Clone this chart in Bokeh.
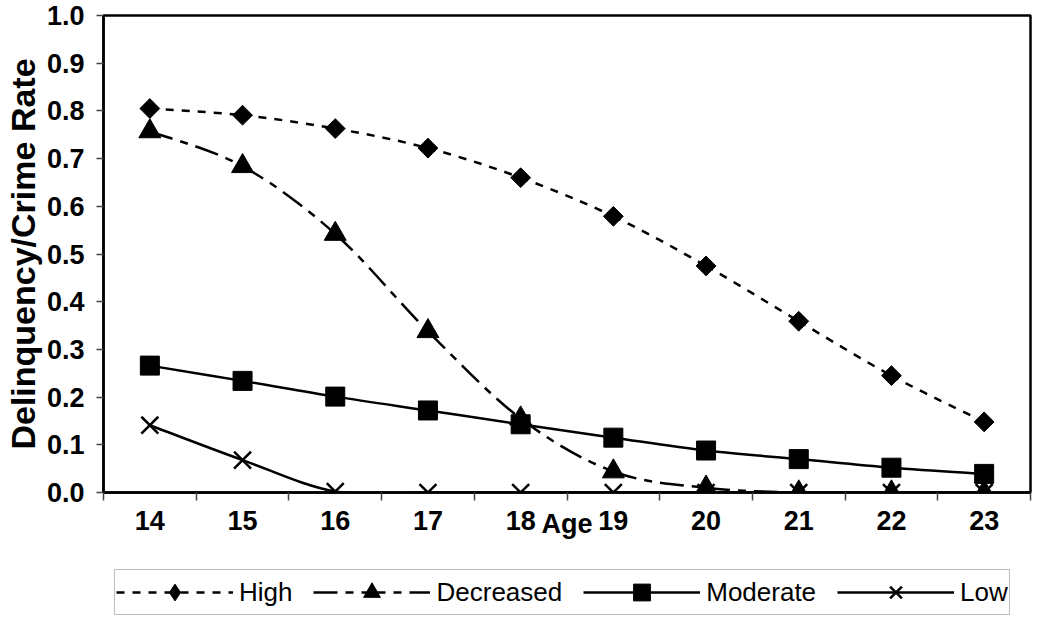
from bokeh.plotting import figure
from bokeh.layouts import column
from bokeh.models import Range1d, FixedTicker, Legend, LegendItem, NumeralTickFormatter
from bokeh.embed import file_html
from bokeh.resources import INLINE
import numpy as np

# ---- data ----
ages = [14, 15, 16, 17, 18, 19, 20, 21, 22, 23]
high = [0.805, 0.791, 0.763, 0.722, 0.660, 0.579, 0.475, 0.359, 0.245, 0.148]
decreased = [0.757, 0.684, 0.542, 0.338, 0.155, 0.044, 0.010, 0.0, 0.0, 0.0]
moderate = [0.266, 0.234, 0.201, 0.172, 0.143, 0.115, 0.088, 0.070, 0.052, 0.039]
low = [0.141, 0.068, 0.002, 0.0, 0.0, 0.0, 0.0, 0.0, 0.0, 0.0]
series_names = ["High", "Decreased", "Moderate", "Low"]
y_ticks = [0.0, 0.1, 0.2, 0.3, 0.4, 0.5, 0.6, 0.7, 0.8, 0.9, 1.0]

FONT = "Liberation Sans"


def smooth(xs, ys):
    """Cubic Bezier control points (Catmull-Rom style, like Excel smoothed lines)."""
    n = len(xs)
    d = dict(x0=[], y0=[], x1=[], y1=[], cx0=[], cy0=[], cx1=[], cy1=[])
    for i in range(n - 1):
        ip = max(i - 1, 0)
        inn = min(i + 2, n - 1)
        d["x0"].append(xs[i]); d["y0"].append(ys[i])
        d["x1"].append(xs[i + 1]); d["y1"].append(ys[i + 1])
        d["cx0"].append(xs[i] + (xs[i + 1] - xs[ip]) / 6.0)
        d["cy0"].append(ys[i] + (ys[i + 1] - ys[ip]) / 6.0)
        d["cx1"].append(xs[i + 1] - (xs[inn] - xs[i]) / 6.0)
        d["cy1"].append(ys[i + 1] - (ys[inn] - ys[i]) / 6.0)
    return d


p = figure(width=1034, height=541, output_backend="svg", toolbar_location=None,
           x_range=Range1d(ages[0] - 0.5, ages[-1] + 0.5), y_range=Range1d(0, 1.0),
           min_border_left=10, min_border_right=4, min_border_top=15, min_border_bottom=0)

p.xgrid.grid_line_color = None
p.ygrid.grid_line_color = None
p.outline_line_color = "black"
p.outline_line_width = 2.5
p.background_fill_color = "white"
p.border_fill_color = "white"

# x axis
p.xaxis.ticker = FixedTicker(ticks=ages, minor_ticks=[a - 0.5 for a in ages] + [ages[-1] + 0.5])
p.xaxis.major_tick_line_color = None
p.xaxis.minor_tick_line_color = "#444444"
p.xaxis.minor_tick_line_width = 1.5
p.xaxis.minor_tick_out = 8
p.xaxis.minor_tick_in = 0
p.xaxis.axis_line_width = 2.5
p.xaxis.axis_line_color = "black"
p.xaxis.major_label_text_font = FONT
p.xaxis.major_label_text_font_style = "bold"
p.xaxis.major_label_text_font_size = "27px"
p.xaxis.major_label_text_color = "black"
p.xaxis.major_label_standoff = 10
p.xaxis.axis_label = "Age"
p.xaxis.axis_label_text_font = FONT
p.xaxis.axis_label_text_font_style = "bold"
p.xaxis.axis_label_text_font_size = "27px"
p.xaxis.axis_label_text_color = "black"
p.xaxis.axis_label_standoff = -24

# y axis
p.yaxis.ticker = FixedTicker(ticks=y_ticks)
p.yaxis.formatter = NumeralTickFormatter(format="0.0")
p.yaxis.major_tick_line_color = "#444444"
p.yaxis.major_tick_line_width = 1.5
p.yaxis.major_tick_out = 7
p.yaxis.major_tick_in = 0
p.yaxis.minor_tick_line_color = None
p.yaxis.axis_line_width = 2.5
p.yaxis.axis_line_color = "black"
p.yaxis.major_label_text_font = FONT
p.yaxis.major_label_text_font_style = "bold"
p.yaxis.major_label_text_font_size = "27px"
p.yaxis.major_label_text_color = "black"
p.yaxis.major_label_standoff = 12
p.yaxis.axis_label = "Delinquency/Crime Rate"
p.yaxis.axis_label_text_font = FONT
p.yaxis.axis_label_text_font_style = "bold"
p.yaxis.axis_label_text_font_size = "34px"
p.yaxis.axis_label_text_color = "black"
p.yaxis.axis_label_standoff = 2

styles = [
    dict(vals=high, dash="8 8", marker="square", legend_marker="diamond", size=14, angle=np.pi / 4, lw=1),
    dict(vals=decreased, dash="24 8 8 8", marker="triangle", legend_marker="triangle", size=22, angle=0.0, lw=1),
    dict(vals=moderate, dash="solid", marker="square", legend_marker="square", size=19, angle=0.0, lw=1),
    dict(vals=low, dash="solid", marker="x", legend_marker="x", size=24, angle=0.0, lw=2.5),
]

# separate strip that only holds the legend (its copies of the series lie outside its ranges)
lf = figure(width=1034, height=75, output_backend="svg", toolbar_location=None,
            x_range=Range1d(0, 1), y_range=Range1d(0, 1),
            x_axis_location=None, y_axis_location=None,
            min_border_left=0, min_border_right=0, min_border_top=0, min_border_bottom=0)
lf.xgrid.grid_line_color = None
lf.ygrid.grid_line_color = None
lf.outline_line_color = None

items = []
for name, st in zip(series_names, styles):
    d = smooth(ages, st["vals"])
    p.bezier(x0="x0", y0="y0", x1="x1", y1="y1", cx0="cx0", cy0="cy0", cx1="cx1", cy1="cy1",
             source=d, line_color="black", line_width=2.5, line_dash=st["dash"])
    p.scatter(x=ages, y=st["vals"], marker=st["marker"], size=st["size"], angle=st["angle"],
              fill_color="black", line_color="black", line_width=st["lw"])
    lr = lf.bezier(x0="x0", y0="y0", x1="x1", y1="y1", cx0="cx0", cy0="cy0", cx1="cx1", cy1="cy1",
                   source=d, line_color="black", line_width=2.5, line_dash=st["dash"])
    mr = lf.scatter(x=ages, y=st["vals"], marker=st["legend_marker"], size=st["size"],
                    fill_color="black", line_color="black", line_width=st["lw"])
    items.append(LegendItem(label=name, renderers=[lr, mr]))

legend = Legend(items=items, orientation="horizontal", location=(11, 1),
                glyph_width=117, glyph_height=42, label_standoff=6, spacing=21, padding=1, margin=0,
                label_text_font=FONT, label_text_font_size="26px", label_text_color="black",
                border_line_color="#808080", border_line_width=1.5, background_fill_color="white",
                background_fill_alpha=1.0)
lf.add_layout(legend, "center")

layout = column(p, lf, spacing=0)
open("out.html", "w").write(file_html(layout, INLINE))
